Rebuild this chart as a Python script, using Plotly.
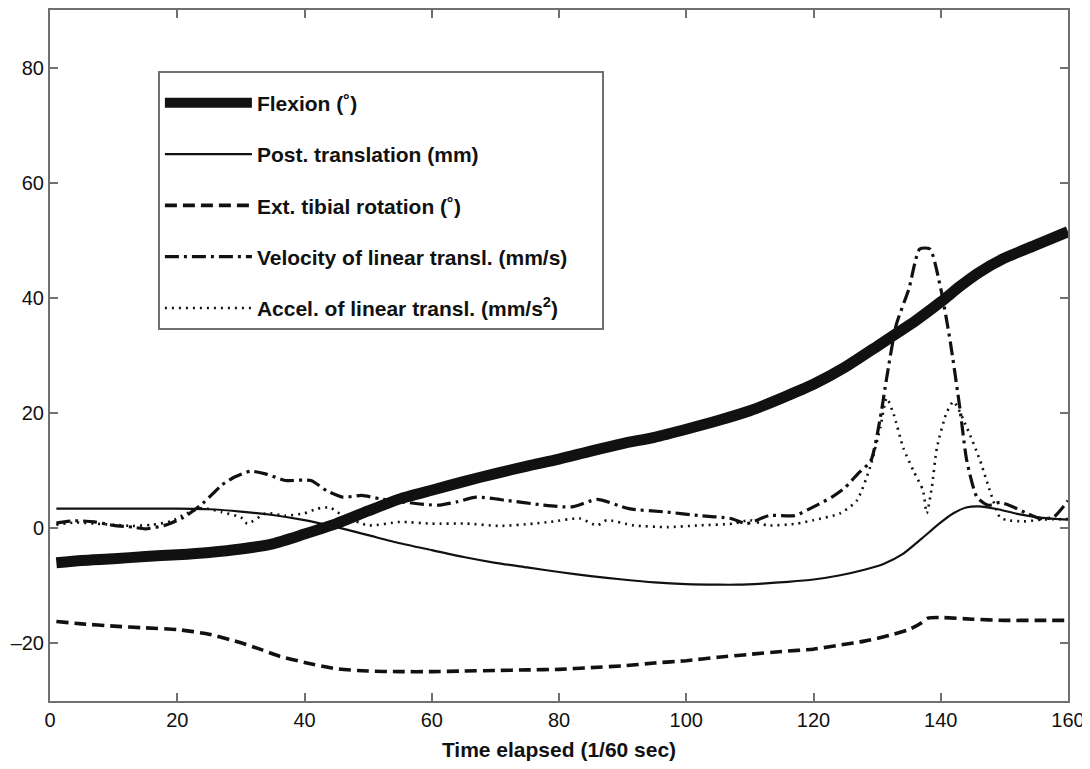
import plotly.graph_objects as go

# ---------------- data ----------------
flexion_x = [1, 5, 10, 15, 20, 25, 30, 35, 40, 45, 50, 55, 60, 65, 70, 75, 80, 85, 90, 95,
             100, 105, 110, 115, 120, 125, 130, 133, 136, 140, 143, 146, 150, 155, 160]
flexion_y = [-6.0, -5.6, -5.3, -4.9, -4.6, -4.2, -3.6, -2.7, -1.0, 0.8, 3.0, 5.1, 6.6, 8.1, 9.5,
             10.8, 12.0, 13.4, 14.7, 15.8, 17.2, 18.7, 20.4, 22.6, 25.0, 28.0, 31.6, 33.8, 36.0,
             39.3, 42.0, 44.4, 46.9, 49.2, 51.5]

post_x = [1, 5, 10, 15, 20, 25, 30, 35, 40, 45, 50, 55, 60, 65, 70, 75, 80, 85, 90, 95, 100,
          105, 108, 112, 116, 120, 124, 128, 131, 134, 137, 140, 142, 144, 146, 149, 152, 156, 160]
post_y = [3.4, 3.4, 3.4, 3.4, 3.4, 3.3, 2.9, 2.3, 1.4, 0.2, -1.2, -2.6, -3.8, -5.0, -6.0, -6.8,
          -7.6, -8.3, -8.9, -9.4, -9.7, -9.8, -9.8, -9.6, -9.3, -8.9, -8.2, -7.2, -6.2, -4.5,
          -1.8, 1.0, 2.6, 3.6, 3.8, 3.3, 2.5, 1.8, 1.5]

tibial_x = [1, 5, 10, 15, 20, 25, 30, 33, 36, 40, 45, 50, 55, 60, 65, 70, 75, 80, 85, 90, 95,
            100, 105, 110, 115, 120, 124, 128, 132, 135, 137, 138, 140, 145, 150, 155, 160]
tibial_y = [-16.2, -16.6, -17.0, -17.3, -17.6, -18.4, -19.9, -21.0, -22.2, -23.3, -24.4, -24.8,
            -24.9, -24.9, -24.8, -24.7, -24.6, -24.5, -24.2, -23.9, -23.4, -23.0, -22.4, -21.9,
            -21.4, -21.0, -20.3, -19.6, -18.6, -17.6, -16.4, -15.6, -15.5, -15.8, -16.0, -16.0,
            -16.0]

vel_x = [1, 4, 7, 10, 13, 15, 18, 21, 24, 27, 29, 31.5, 34, 37, 41, 43.5, 46, 49, 52, 56, 61,
         64, 67, 72, 77, 82, 86, 91, 97, 102, 107, 109.5, 113, 117, 120, 123, 125, 127, 129,
         130.5, 131.5, 133, 135, 136.7, 138.3, 140, 141.5, 143, 144.1, 145.7, 147.5, 149.3,
         151.4, 153.5, 155.6, 157.7, 160]
vel_y = [0.9, 1.3, 1.1, 0.5, 0.2, -0.1, 0.5, 1.9, 4.3, 7.5, 8.9, 9.9, 9.4, 8.3, 8.3, 6.5, 5.4,
         5.7, 5.1, 4.5, 4.0, 4.6, 5.4, 4.8, 4.1, 3.7, 5.0, 3.4, 2.8, 2.2, 1.7, 0.8, 2.2, 2.2,
         3.7, 5.5, 7.1, 9.5, 11.7, 19.2, 26.1, 35.3, 41.6, 48.5, 48.5, 41.6, 32.4, 20.9, 11.7,
         5.4, 4.0, 4.5, 3.7, 2.6, 1.7, 1.9, 4.8]

acc_x = [1, 4, 7, 10, 13, 16, 19, 21.5, 24, 27, 30, 31, 34, 37, 40, 42, 44, 46, 50, 55, 60,
         65.5, 70.7, 76, 78.6, 83.3, 86, 87.5, 91.7, 97, 102, 107.4, 110, 112.7, 117.4, 120,
         124.2, 126.8, 128.9, 130.5, 131.5, 132.6, 134.1, 135.7, 137.2, 137.8, 138.6, 139.4,
         140.9, 142, 144.1, 146.2, 147.7, 149.3, 150.4, 153, 156, 160]
acc_y = [0.6, 1.0, 0.8, 0.6, 0.4, 0.6, 1.2, 2.6, 3.5, 2.8, 1.9, 0.8, 2.6, 2.2, 2.6, 3.4, 3.6,
         2.2, 0.5, 1.1, 0.8, 0.8, 0.4, 0.8, 1.1, 1.7, 0.5, 1.4, 0.5, 0.2, 0.5, 0.8, 1.4, 0.5,
         0.8, 1.4, 2.6, 4.8, 10.6, 17.5, 22.6, 19.8, 14.0, 10.0, 6.6, 2.6, 7.1, 14.0, 20.0,
         22.0, 17.5, 11.7, 6.6, 1.9, 1.4, 1.2, 1.5, 1.6]

series_names = ["Flexion (˚)", "Post. translation (mm)", "Ext. tibial rotation (˚)",
                "Velocity of linear transl. (mm/s)" + "\u00a0" * 5,
                "Accel. of linear transl. (mm/s<sup>2</sup>)"]

x_ticks = [0, 20, 40, 60, 80, 100, 120, 140, 160]
y_ticks = [-20, 0, 20, 40, 60, 80]
y_ticktext = ["–20", "0", "20", "40", "60", "80"]

INK = "#111111"
FRAME = "#707070"
FONT = "Liberation Sans, Arial, Helvetica, sans-serif"

fig = go.Figure()
styles = [
    dict(width=11, dash="solid"),
    dict(width=2.2, dash="solid"),
    dict(width=3.6, dash="12px,6px"),
    dict(width=3.2, dash="14px,5px,3px,5px"),
    dict(width=2.6, dash="2px,5px"),
]
data = [(flexion_x, flexion_y), (post_x, post_y), (tibial_x, tibial_y),
        (vel_x, vel_y), (acc_x, acc_y)]
for i, ((xs, ys), name, st) in enumerate(zip(data, series_names, styles)):
    fig.add_trace(go.Scatter(
        x=xs, y=ys, mode="lines", name="<b>" + name + "</b>",
        legendgroup=f"g{i}", legendrank=i + 1,
        line=dict(color=INK, width=st["width"], dash=st["dash"], shape="spline", smoothing=0.6),
        hoverinfo="skip",
    ))

axis_common = dict(
    showgrid=False, zeroline=False, showline=True, linecolor=FRAME, linewidth=2,
    mirror="ticks", ticks="inside", ticklen=8, tickwidth=2, tickcolor=FRAME,
    tickfont=dict(family=FONT, size=20, color=INK),
)

# the page body has an 8px margin, so the figure is sized to fit the 1090x769 window
fig.update_layout(
    width=1082, height=753,
    margin=dict(l=42, r=22, t=0, b=58),
    paper_bgcolor="white", plot_bgcolor="white",
    showlegend=True,
    legend=dict(
        x=0.106, y=0.911, xanchor="left", yanchor="top",
        bgcolor="white", bordercolor=FRAME, borderwidth=2,
        font=dict(family=FONT, size=21, color=INK),
        tracegroupgap=21, itemwidth=87, traceorder="grouped",
        title=dict(text="\u00a0", font=dict(size=7)),
    ),
    xaxis=dict(range=[0, 160], tickvals=x_ticks,
               title=dict(text="<b>Time elapsed (1/60 sec)</b>",
                          font=dict(family=FONT, size=21, color=INK), standoff=15),
               **axis_common),
    yaxis=dict(range=[-30, 90], tickvals=y_ticks, ticktext=y_ticktext, **axis_common),
)

fig.write_html("out.html")
